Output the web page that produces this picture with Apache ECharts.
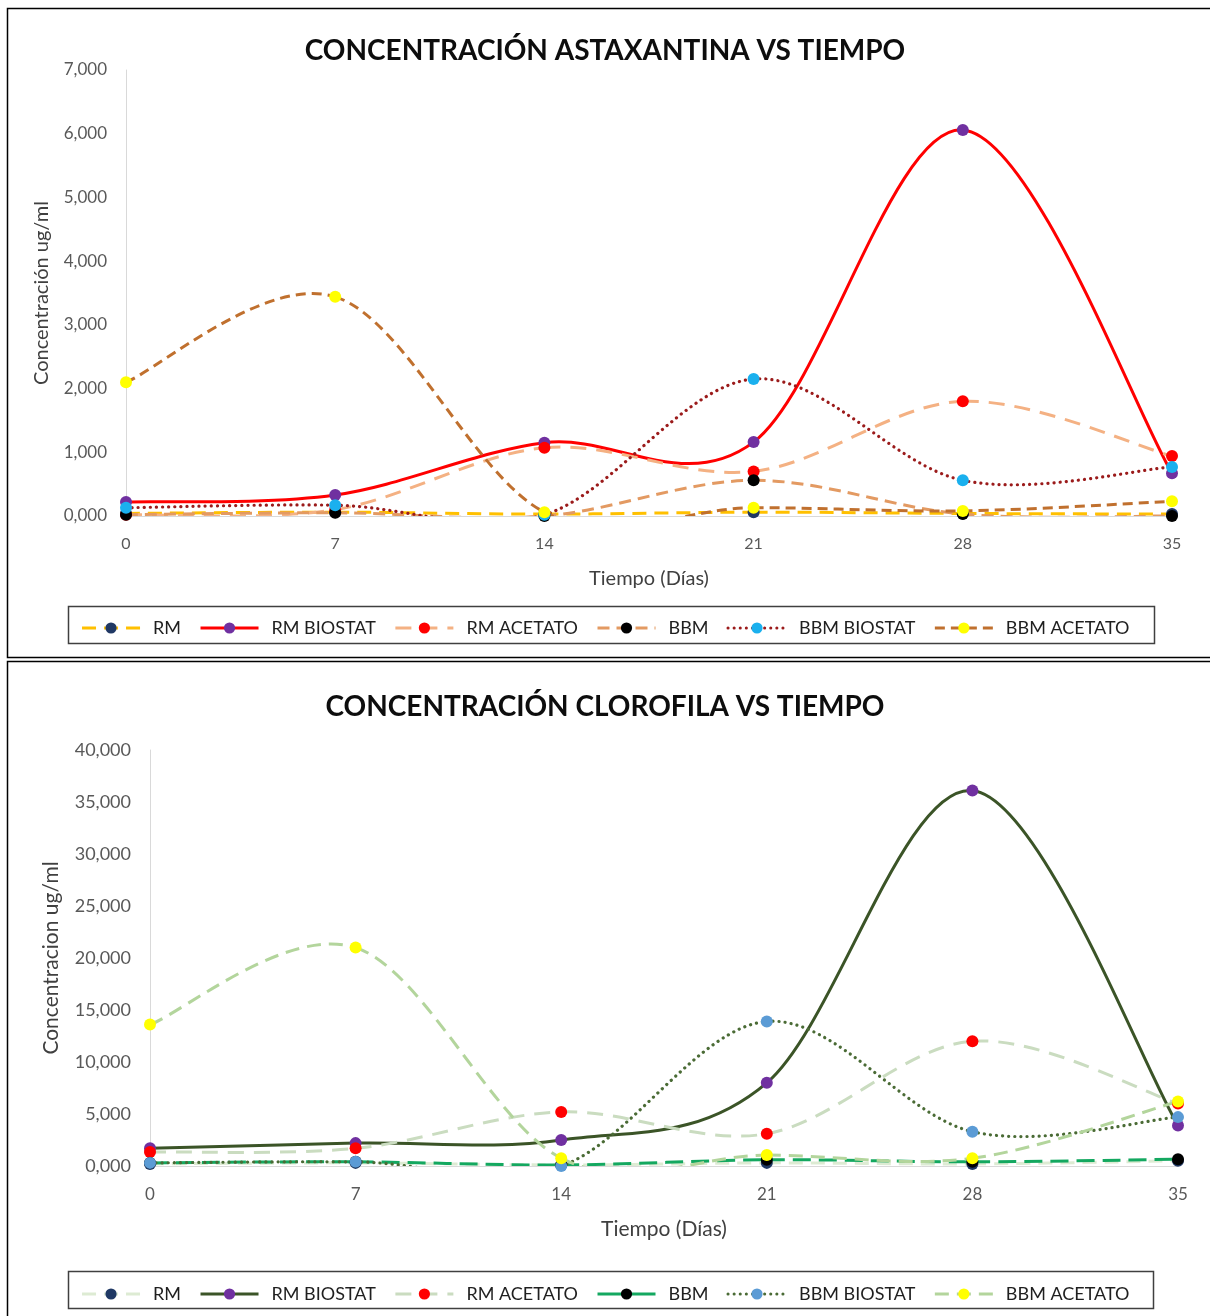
<!DOCTYPE html>
<html>
<head>
<meta charset="utf-8">
<script src="https://cdn.jsdelivr.net/npm/echarts@6/dist/echarts.min.js"></script>
<style>
html,body{margin:0;padding:0;background:#fff;}
#c{width:1210px;height:1316px;}
</style>
</head>
<body>
<div id="c"></div>
<script>
// ---- data ----
const days = [0, 7, 14, 21, 28, 35];
const xTicks = ['0', '7', '14', '21', '28', '35'];
const seriesNames = ['RM', 'RM BIOSTAT', 'RM ACETATO', 'BBM', 'BBM BIOSTAT', 'BBM ACETATO'];

// Astaxantina (ug/ml)
const astaRM          = [0.04, 0.06, 0.03, 0.06, 0.04, 0.03];
const astaRMBiostat   = [0.22, 0.33, 1.15, 1.16, 6.06, 0.67];
const astaRMAcetato   = [0.02, 0.10, 1.07, 0.70, 1.80, 0.94];
const astaBBM         = [0.02, 0.05, 0.00, 0.56, 0.03, 0.00];
const astaBBMBiostat  = [0.13, 0.17, 0.02, 2.15, 0.56, 0.77];
const astaBBMAcetato  = [2.10, 3.44, 0.06, 0.13, 0.08, 0.23];

// Clorofila (ug/ml)
const clorRM          = [0.2, 0.3, 0.1, 0.3, 0.2, 0.5];
const clorRMBiostat   = [1.7, 2.2, 2.5, 8.0, 36.1, 3.9];
const clorRMAcetato   = [1.35, 1.7, 5.2, 3.1, 12.0, 6.0];
const clorBBM         = [0.3, 0.4, 0.1, 0.6, 0.4, 0.65];
const clorBBMBiostat  = [0.3, 0.4, 0.0, 13.9, 3.3, 4.7];
const clorBBMAcetato  = [13.6, 21.0, 0.75, 1.05, 0.75, 6.2];

const titleTop = 'CONCENTRACIÓN ASTAXANTINA VS TIEMPO';
const titleBottom = 'CONCENTRACIÓN CLOROFILA VS TIEMPO';
const xName = 'Tiempo (Días)';
const yNameTop = 'Concentración ug/ml';
const yNameBottom = 'Concentracion ug/ml';

// ---- styles ----
const FONT = "Lato, 'Open Sans', sans-serif";
const pairs = arr => days.map((d, i) => [d, arr[i]]);

const topStyles = [
  {line: '#FFC000', type: [14, 8], width: 3, mark: '#203864'},
  {line: '#FF0000', type: 'solid', width: 3, mark: '#7030A0'},
  {line: '#F4B183', type: [16, 10], width: 3, mark: '#FF0000'},
  {line: '#E39A62', type: [12, 7], width: 3, mark: '#000000'},
  {line: '#9B1B1B', type: [0.1, 6], width: 3.2, mark: '#1AB0EE', cap: 'round'},
  {line: '#C0702E', type: [10, 6], width: 3, mark: '#FFFF00'}
];
const bottomStyles = [
  {line: '#DDEBD3', type: [14, 8], width: 3, mark: '#1F3864'},
  {line: '#3B5427', type: 'solid', width: 3, mark: '#7030A0'},
  {line: '#CADCC0', type: [16, 10], width: 3, mark: '#FF0000'},
  {line: '#14A860', type: [18, 8], width: 3, mark: '#000000', legendSolid: true},
  {line: '#4A6B35', type: [0.1, 6], width: 3.2, mark: '#5B9BD5', cap: 'round'},
  {line: '#B3D59C', type: [14, 8], width: 3, mark: '#FFFF00'}
];

const topData = [astaRM, astaRMBiostat, astaRMAcetato, astaBBM, astaBBMBiostat, astaBBMAcetato];
const bottomData = [clorRM, clorRMBiostat, clorRMAcetato, clorBBM, clorBBMBiostat, clorBBMAcetato];

// Smoothed (spreadsheet-style) curve drawn through the library's coordinate system.
function curveSeries(arr, st, idx, z) {
  return {
    type: 'custom', xAxisIndex: idx, yAxisIndex: idx, silent: true, clip: true, z: z,
    data: [[days[0], arr[0]]],
    renderItem: (params, api) => {
      const p = days.map((d, i) => api.coord([d, arr[i]]));
      const n = p.length;
      const children = [];
      const k = 1 / 6;
      for (let i = 0; i < n - 1; i++) {
        const p0 = p[Math.max(i - 1, 0)], p1 = p[i], p2 = p[i + 1], p3 = p[Math.min(i + 2, n - 1)];
        children.push({
          type: 'bezierCurve',
          shape: {
            x1: p1[0], y1: p1[1], x2: p2[0], y2: p2[1],
            cpx1: p1[0] + (p2[0] - p0[0]) * k, cpy1: p1[1] + (p2[1] - p0[1]) * k,
            cpx2: p2[0] - (p3[0] - p1[0]) * k, cpy2: p2[1] - (p3[1] - p1[1]) * k
          },
          style: {
            fill: null, stroke: st.line, lineWidth: st.width,
            lineDash: st.type === 'solid' ? null : st.type,
            lineCap: st.cap || 'butt'
          }
        });
      }
      return {type: 'group', children: children};
    }
  };
}

function mkSeries(dataArr, styles, idx) {
  const out = [];
  dataArr.forEach((arr, i) => out.push(curveSeries(arr, styles[i], idx, 2 + i)));
  dataArr.forEach((arr, i) => {
    out.push({
      name: seriesNames[i],
      type: 'line',
      xAxisIndex: idx, yAxisIndex: idx,
      symbol: 'circle',
      symbolSize: 12,
      data: pairs(arr),
      lineStyle: {color: styles[i].line, width: 0, opacity: 0},
      itemStyle: {color: styles[i].mark, borderWidth: 0},
      emphasis: {disabled: true},
      z: 20 + i
    });
  });
  return out;
}

const fmt = v => v.toFixed(3).replace('.', ',');

function mkX(gridIdx, nameSize, labelSize) {
  return {
    type: 'value', gridIndex: gridIdx, min: 0, max: 35, interval: 7,
    name: xName, nameLocation: 'middle', nameGap: 53,
    nameTextStyle: {color: '#404040', fontSize: nameSize, fontFamily: FONT},
    axisLine: {show: true, lineStyle: {color: '#D9D9D9', width: 1}},
    axisTick: {show: false},
    splitLine: {show: false},
    axisLabel: {color: '#595959', fontSize: labelSize, fontFamily: FONT, margin: 20, formatter: v => xTicks[days.indexOf(v)] ?? String(v)}
  };
}
function mkY(gridIdx, max, interval, name, gap, nameSize, labelSize) {
  return {
    type: 'value', gridIndex: gridIdx, min: 0, max: max, interval: interval,
    name: name, nameLocation: 'middle', nameGap: gap, nameRotate: 90,
    nameTextStyle: {color: '#404040', fontSize: nameSize, fontFamily: FONT},
    axisLine: {show: true, lineStyle: {color: '#D9D9D9', width: 1}},
    axisTick: {show: false},
    splitLine: {show: false},
    axisLabel: {formatter: fmt, margin: 19, color: '#595959', fontSize: labelSize, fontFamily: FONT}
  };
}

const legendText = {color: '#1F1F1F', fontSize: 18, fontFamily: FONT, padding: [0, 0, 0, 8]};
const legendData = styles => seriesNames.map((n, i) => ({
  name: n,
  itemStyle: {color: styles[i].mark, opacity: 1},
  lineStyle: {color: styles[i].line, type: styles[i].legendSolid ? 'solid' : styles[i].type, width: 3, opacity: 1, cap: styles[i].cap || 'butt'}
}));

const option = {
  animation: false,
  backgroundColor: '#fff',
  title: [
    {text: titleTop, left: 'center', top: 32, textStyle: {fontSize: 28, fontWeight: 'bold', color: '#0D0D0D', fontFamily: FONT}},
    {text: titleBottom, left: 'center', top: 688, textStyle: {fontSize: 28, fontWeight: 'bold', color: '#0D0D0D', fontFamily: FONT}}
  ],
  grid: [
    {left: 126, right: 38, top: 70, height: 446},
    {left: 150, right: 32, top: 750, height: 416}
  ],
  xAxis: [mkX(0, 20, 16), mkX(1, 21, 17)],
  yAxis: [mkY(0, 7, 1, yNameTop, 74, 20, 17), mkY(1, 40, 5, yNameBottom, 88, 21, 18)],
  legend: [
    {data: legendData(topStyles), left: 'center', top: 614, itemGap: 18, itemWidth: 58, itemHeight: 14, textStyle: legendText, selectedMode: false},
    {data: legendData(bottomStyles), left: 'center', top: 1280, itemGap: 18, itemWidth: 58, itemHeight: 14, textStyle: legendText, selectedMode: false}
  ],
  graphic: [
    {type: 'rect', shape: {x: 7.5, y: 8.5, width: 1210, height: 649}, style: {fill: null, stroke: '#000', lineWidth: 1.5}, silent: true},
    {type: 'rect', shape: {x: 7.5, y: 661.5, width: 1210, height: 660}, style: {fill: null, stroke: '#000', lineWidth: 1.5}, silent: true},
    {type: 'rect', shape: {x: 68.5, y: 606.5, width: 1086, height: 37}, style: {fill: null, stroke: '#404040', lineWidth: 1.5}, silent: true},
    {type: 'rect', shape: {x: 68.5, y: 1271.5, width: 1085, height: 37}, style: {fill: null, stroke: '#404040', lineWidth: 1.5}, silent: true}
  ],
  series: [...mkSeries(topData, topStyles, 0), ...mkSeries(bottomData, bottomStyles, 1)]
};

const chart = echarts.init(document.getElementById('c'), null, {renderer: 'canvas'});
chart.setOption(option);
</script>
</body>
</html>
